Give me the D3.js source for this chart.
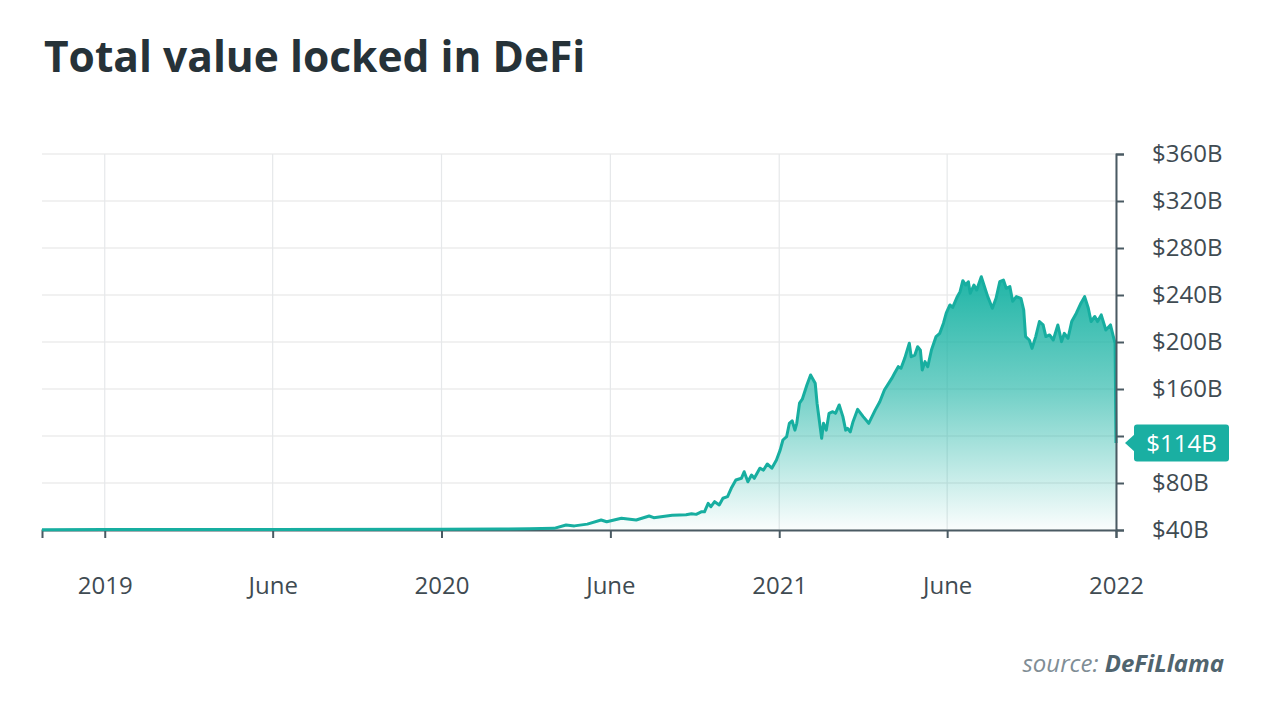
<!DOCTYPE html>
<html><head><meta charset="utf-8">
<script src="https://cdn.jsdelivr.net/npm/d3@7"></script>
<style>
body{margin:0;background:#fff;}
svg{display:block;font-family:"Open Sans",sans-serif;}
</style>
</head><body>
<svg id="c" width="1280" height="726"></svg>
<script>
// ---- data (billions USD) ----
const dates = [
"2018-10-25","2019-01-01","2019-07-02","2020-01-01","2020-03-04","2020-04-05","2020-05-02","2020-05-15","2020-05-24","2020-06-07",
"2020-06-22","2020-06-28","2020-07-14","2020-07-30","2020-08-13","2020-08-18","2020-09-07","2020-09-15","2020-09-22","2020-09-28",
"2020-10-03","2020-10-09","2020-10-12","2020-10-16","2020-10-19","2020-10-23","2020-10-28","2020-11-01","2020-11-06","2020-11-10",
"2020-11-15","2020-11-21","2020-11-24","2020-11-28","2020-12-02","2020-12-05","2020-12-11","2020-12-15","2020-12-19","2020-12-24",
"2020-12-29","2021-01-02","2021-01-05","2021-01-09","2021-01-12","2021-01-15","2021-01-18","2021-01-20","2021-01-23","2021-01-26",
"2021-01-31","2021-02-04","2021-02-09","2021-02-11","2021-02-16","2021-02-18","2021-02-21","2021-02-24","2021-02-28","2021-03-03",
"2021-03-07","2021-03-11","2021-03-14","2021-03-16","2021-03-19","2021-03-22","2021-03-27","2021-04-02","2021-04-08","2021-04-15",
"2021-04-20","2021-04-25","2021-05-03","2021-05-06","2021-05-10","2021-05-13","2021-05-17","2021-05-22","2021-05-24","2021-05-28",
"2021-05-31","2021-06-03","2021-06-05","2021-06-08","2021-06-11","2021-06-15","2021-06-20","2021-06-24","2021-06-28","2021-07-01",
"2021-07-05","2021-07-08","2021-07-13","2021-07-16","2021-07-19","2021-07-22","2021-07-25","2021-07-27","2021-07-31","2021-08-03",
"2021-08-08","2021-08-12","2021-08-15","2021-08-20","2021-08-24","2021-08-28","2021-09-01","2021-09-04","2021-09-08","2021-09-11",
"2021-09-15","2021-09-20","2021-09-23","2021-09-25","2021-09-29","2021-10-02","2021-10-06","2021-10-10","2021-10-14","2021-10-17",
"2021-10-21","2021-10-25","2021-10-30","2021-11-03","2021-11-06","2021-11-10","2021-11-14","2021-11-19","2021-11-24","2021-11-28",
"2021-12-02","2021-12-05","2021-12-09","2021-12-12","2021-12-16","2021-12-21","2021-12-26","2021-12-29","2021-12-31","2022-01-01"
];
const tvl = [
40.3,40.4,40.5,40.6,40.8,41.0,41.4,44.3,43.5,45.0,
48.5,47.0,50.0,48.5,51.9,50.5,52.5,52.8,53.0,53.8,
53.3,55.6,55.5,62.7,59.8,64.1,61.3,67.0,68.4,75.5,
82.6,84.0,89.6,81.0,86.8,84.0,92.6,91.0,96.2,92.6,
99.6,108.0,116.6,119.4,130.8,133.0,125.0,130.8,147.9,151.3,
163.4,171.9,164.9,147.9,118.0,130.8,125.0,139.3,140.7,139.3,
146.4,136.5,125.0,126.5,123.5,132.2,142.7,136.5,130.8,142.0,
149.2,159.1,169.0,173.4,179.0,177.6,186.1,199.0,187.5,188.9,
196.0,193.0,176.2,183.3,179.0,193.2,204.6,207.4,216.0,224.5,
231.5,229.4,238.6,242.8,252.2,248.5,251.3,241.4,248.5,244.3,
255.6,245.7,238.6,228.7,237.2,251.3,252.7,245.7,247.1,234.7,
238.6,237.2,227.2,204.6,201.7,194.6,204.6,217.4,214.5,204.6,
206.0,201.7,214.5,200.3,207.4,203.2,217.4,224.5,233.0,238.6,
228.7,217.4,221.7,217.4,223.1,210.2,214.5,205.0,199.0,114.0
];
const yTicks = [40,80,120,160,200,240,280,320,360];
const xTickDates = ["2019-01-01","2019-07-02","2020-01-01","2020-07-02","2021-01-01","2021-07-02","2022-01-01"];
const xTickLabels = ["2019","June","2020","June","2021","June","2022"];
const titleText = "Total value locked in DeFi";
const calloutText = "$114B";

// ---- chart ----
const parse = d3.utcParse("%Y-%m-%d");
const data = dates.map((d,i)=>({date:parse(d), v:tvl[i]}));
const svg = d3.select("#c");
const L=42, R=1116, T=154, B=530;

const x = d3.scaleUtc().domain(d3.extent(data,d=>d.date)).range([L,R]);
const y = d3.scaleLinear().domain([40,360]).range([B,T]);

// title
svg.append("text").attr("x",44).attr("y",72)
  .attr("font-size",42.5).attr("font-weight",700).attr("fill","#263238")
  .text(titleText);

// gridlines
const g = svg.append("g");
g.selectAll("line.h").data(yTicks).join("line")
  .attr("x1",L).attr("x2",R).attr("y1",d=>y(d)).attr("y2",d=>y(d))
  .attr("stroke","#ececec").attr("stroke-width",1.5);
g.selectAll("line.v").data(xTickDates).join("line")
  .attr("x1",d=>x(parse(d))).attr("x2",d=>x(parse(d))).attr("y1",T).attr("y2",B)
  .attr("stroke","#e6e8ea").attr("stroke-width",1.2);

// gradient
const defs = svg.append("defs");
const grad = defs.append("linearGradient").attr("id","fillg")
  .attr("gradientUnits","userSpaceOnUse").attr("x1",0).attr("x2",0)
  .attr("y1",y(d3.max(tvl))).attr("y2",B);
grad.append("stop").attr("offset",0).attr("stop-color","#1ab3a4").attr("stop-opacity",0.97);
grad.append("stop").attr("offset",0.45).attr("stop-color","#1ab3a4").attr("stop-opacity",0.62);
grad.append("stop").attr("offset",1).attr("stop-color","#1ab3a4").attr("stop-opacity",0.02);

const area = d3.area().x(d=>x(d.date)).y0(B).y1(d=>y(d.v)).curve(d3.curveLinear);
const line = d3.line().x(d=>x(d.date)).y(d=>y(d.v)).curve(d3.curveLinear);

svg.append("path").datum(data).attr("d",area).attr("fill","url(#fillg)");

// x axis
const xAxis = d3.axisBottom(x).tickValues(xTickDates.map(parse))
  .tickFormat((d,i)=>xTickLabels[i]).tickSize(8).tickPadding(39);
const xg = svg.append("g").attr("transform",`translate(0,${B})`).call(xAxis);
xg.select(".domain").attr("stroke","#4a5a63").attr("stroke-width",2);
xg.selectAll(".tick line").attr("stroke","#4a5a63").attr("stroke-width",2);
xg.selectAll(".tick text").attr("font-size",24).attr("fill","#3f4b52")
  .attr("font-family","'Open Sans',sans-serif");

svg.append("path").datum(data).attr("d",line).attr("fill","none")
  .attr("stroke","#17ae a0".replace(" ","")).attr("stroke-width",3).attr("stroke-linejoin","round");

// y axis (right)
const yAxis = d3.axisRight(y).tickValues(yTicks).tickFormat(d=>`$${d}B`).tickSize(8).tickPadding(28);
const yg = svg.append("g").attr("transform",`translate(${R},0)`).call(yAxis);
yg.select(".domain").attr("stroke","#4a5a63").attr("stroke-width",2);
yg.selectAll(".tick line").attr("stroke","#4a5a63").attr("stroke-width",2);
yg.selectAll(".tick text").attr("font-size",24).attr("fill","#3f4b52")
  .attr("font-family","'Open Sans',sans-serif");

// callout (covers the $120B label, as in the source chart)
const last = data[data.length-1];
const cy = y(last.v);
const cg = svg.append("g");
const bx = R+18, bw = 95, bh = 37;
cg.append("path")
  .attr("d",`M${R+9},${cy} L${bx+1},${cy-9} L${bx+1},${cy+9} Z`).attr("fill","#1aafa2");
cg.append("rect").attr("x",bx).attr("y",cy-bh/2).attr("width",bw).attr("height",bh)
  .attr("rx",3).attr("fill","#1aafa2");
cg.append("text").attr("x",bx+bw/2).attr("y",cy).attr("dy","0.36em")
  .attr("text-anchor","middle").attr("font-size",24).attr("fill","#fff").text(calloutText);

// source
const src = svg.append("text").attr("x",1224).attr("y",672).attr("text-anchor","end")
  .attr("font-size",24).attr("font-style","italic");
src.append("tspan").attr("fill","#808d95").text("source: ");
src.append("tspan").attr("fill","#50646e").attr("font-weight",700).text("DeFiLlama");
</script>
</body></html>
